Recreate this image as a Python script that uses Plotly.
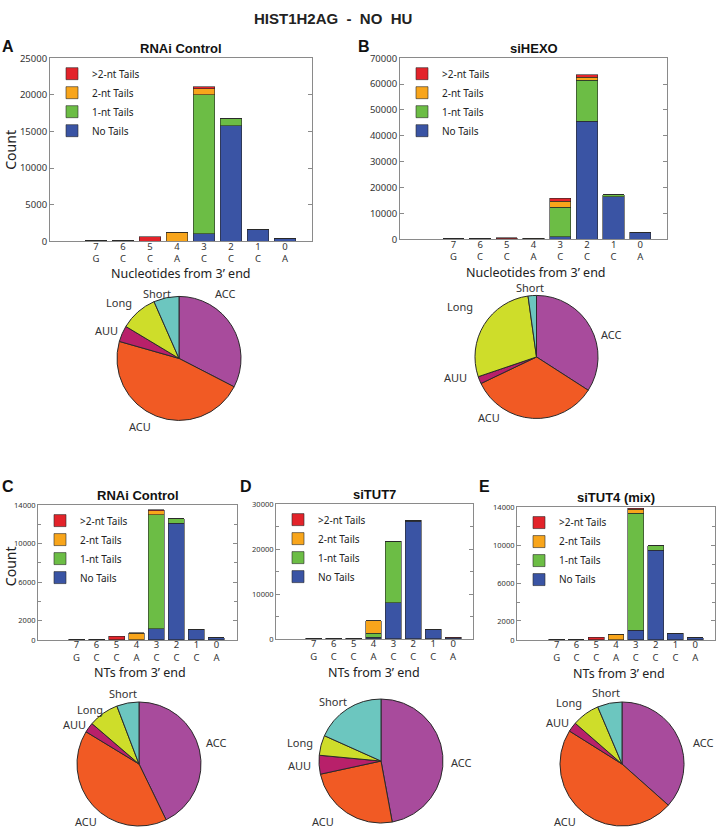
import plotly.graph_objects as go

# ---------------- data ----------------
nt_pos = ["7", "6", "5", "4", "3", "2", "1", "0"]
nt_base = ["G", "C", "C", "A", "C", "C", "C", "A"]
series_names = ["No Tails", "1-nt Tails", "2-nt Tails", ">2-nt Tails"]

# Panel A: RNAi Control (top)
a_no = [0, 0, 0, 0, 1030, 15800, 1610, 360]
a_one = [150, 50, 0, 0, 19000, 900, 0, 0]
a_two = [0, 0, 0, 1230, 800, 0, 0, 0]
a_gt2 = [0, 0, 590, 0, 270, 0, 0, 0]

# Panel B: siHEXO
b_no = [200, 200, 150, 150, 1000, 45600, 16460, 2660]
b_one = [50, 50, 50, 50, 11400, 15950, 760, 0]
b_two = [0, 0, 100, 200, 2300, 1000, 0, 0]
b_gt2 = [50, 50, 300, 100, 1140, 1000, 0, 0]

# Panel C: RNAi Control (bottom)
c_no = [50, 40, 0, 0, 1160, 12125, 1090, 240]
c_one = [50, 40, 0, 0, 11850, 475, 0, 0]
c_two = [0, 0, 0, 700, 410, 0, 0, 0]
c_gt2 = [0, 0, 375, 50, 100, 0, 0, 0]

# Panel D: siTUT7
d_no = [80, 80, 60, 400, 8100, 26160, 2210, 300]
d_one = [50, 50, 50, 850, 13640, 220, 0, 0]
d_two = [0, 0, 0, 2800, 0, 0, 0, 0]
d_gt2 = [0, 0, 0, 0, 0, 0, 0, 70]

# Panel E: siTUT4 (mix)
e_no = [60, 20, 0, 0, 1010, 9470, 700, 210]
e_one = [40, 10, 0, 0, 12350, 450, 0, 0]
e_two = [0, 0, 0, 590, 420, 0, 0, 0]
e_gt2 = [0, 0, 280, 0, 100, 0, 30, 0]

# pies (percent)
pie_labels = ["ACC", "ACU", "AUU", "Long", "Short"]
pie_a = [32.6, 46.9, 4.2, 9.8, 6.6]
pie_b = [34.1, 33.8, 1.9, 28.0, 2.2]
pie_c = [42.8, 40.9, 2.6, 7.9, 5.8]
pie_d = [47.1, 24.5, 4.9, 5.2, 18.3]
pie_e = [36.6, 47.4, 2.5, 7.2, 6.4]

# ---------------- styling / layout ----------------
W, H = 716, 834
bar_colors = ["#3A54A4", "#6CBD45", "#F8A51B", "#E3232A"]
pie_colors = ["#A84B9C", "#F15A24", "#B8206A", "#CEDD2A", "#6CC6BF"]
TF = "Noto Sans, Open Sans, sans-serif"
BF = "Liberation Sans, Arial, sans-serif"


def fx(a, b):
    return [a / W, b / W]


def fy(top, bottom):
    return [1 - bottom / H, 1 - top / H]


fig = go.Figure()

x_idx = list(range(1, len(nt_pos) + 1))
tick_text = [f"{p}<br>{b}" for p, b in zip(nt_pos, nt_base)]

panels = [
    dict(series=[a_no, a_one, a_two, a_gt2], title="RNAi Control",
         xd=fx(50, 312), yd=fy(52, 238), xr=[-0.7, 9.0], yr=[0, 25000],
         tv=[0, 5000, 10000, 15000, 20000, 25000], minor=None, yfs=9.5,
         xt="Nucleotides from 3’ end", xtpos=(181, 271), yt="Count", ytpos=(11, 145)),
    dict(series=[b_no, b_one, b_two, b_gt2], title="siHEXO",
         xd=fx(400, 667), yd=fy(52, 236), xr=[-1.0, 9.0], yr=[0, 70000],
         tv=[0, 10000, 20000, 30000, 40000, 50000, 60000, 70000], minor=None, yfs=9.5,
         xt="Nucleotides from 3’ end", xtpos=(536, 270), yt="", ytpos=None),
    dict(series=[c_no, c_one, c_two, c_gt2], title="RNAi Control",
         xd=fx(38, 237), yd=fy(506, 643), xr=[-0.93, 9.03], yr=[0, 14000],
         tv=[0, 2000, 6000, 10000, 14000], minor=2000, yfs=7.5,
         xt="NTs from 3’ end", xtpos=(140, 676), yt="Count", ytpos=(10, 568)),
    dict(series=[d_no, d_one, d_two, d_gt2], title="siTUT7",
         xd=fx(276, 473), yd=fy(505, 642), xr=[-0.9, 9.0], yr=[0, 30000],
         tv=[0, 10000, 20000, 30000], minor=5000, yfs=7.5,
         xt="NTs from 3’ end", xtpos=(374, 676), yt="", ytpos=None),
    dict(series=[e_no, e_one, e_two, e_gt2], title="siTUT4 (mix)",
         xd=fx(517, 715), yd=fy(508, 643), xr=[-1.0, 9.0], yr=[0, 14000],
         tv=[0, 2000, 6000, 10000, 14000], minor=2000, yfs=7.5,
         xt="NTs from 3’ end", xtpos=(619, 677), yt="", ytpos=None),
]

annotations = []
layout_upd = {}
for i, p in enumerate(panels, start=1):
    sfx = "" if i == 1 else str(i)
    leg = "legend" + sfx
    for name, vals, col in zip(series_names, p["series"], bar_colors):
        fig.add_trace(go.Bar(
            x=x_idx, y=vals, name=name, width=0.8,
            marker=dict(color=col, line=dict(color="rgba(40,40,40,0.75)", width=0.8)),
            xaxis="x" + sfx, yaxis="y" + sfx, legend=leg,
        ))
    layout_upd["xaxis" + sfx] = dict(
        domain=p["xd"], range=p["xr"], anchor="y" + sfx,
        tickmode="array", tickvals=x_idx, ticktext=tick_text,
        showline=True, mirror=True, linecolor="#8a8a8a", linewidth=1,
        ticks="", showgrid=False, zeroline=False, ticklabelstandoff=-4,
        tickfont=dict(family=TF, size=9.5, color="#333"),
    )
    ya = dict(
        domain=p["yd"], range=p["yr"], anchor="x" + sfx,
        tickmode="array", tickvals=p["tv"], tickformat="d",
        showline=True, mirror="ticks", linecolor="#8a8a8a", linewidth=1,
        ticks="inside", ticklen=4, tickcolor="#8a8a8a",
        showgrid=False, zeroline=False,
        tickfont=dict(family=TF, size=p["yfs"], color="#333"),
    )
    if p["minor"]:
        ya["minor"] = dict(dtick=p["minor"], ticks="inside", ticklen=3, tickcolor="#8a8a8a")
    layout_upd["yaxis" + sfx] = ya
    layout_upd[leg] = dict(
        x=p["xd"][0] + 2 / W, y=p["yd"][1] - 1 / H, xanchor="left", yanchor="top",
        traceorder="reversed", bgcolor="rgba(255,255,255,0)",
        borderwidth=0,
        font=dict(family=TF, size=10, color="#222"),
        tracegroupgap=0, itemwidth=30,
    )
    annotations.append(dict(
        text="<b>" + p["title"] + "</b>", xref=f"x{sfx} domain", yref=f"y{sfx} domain",
        x=0.5, y=1.0, xanchor="center", yanchor="bottom", showarrow=False, yshift=0,
        font=dict(family=BF, size=13, color="#111"),
    ))
    annotations.append(dict(
        text=p["xt"], xref="paper", yref="paper",
        x=p["xtpos"][0] / W, y=1 - p["xtpos"][1] / H, xanchor="center", yanchor="middle",
        showarrow=False, font=dict(family=TF, size=12.5, color="#222"),
    ))
    if p["yt"]:
        annotations.append(dict(
            text=p["yt"], xref="paper", yref="paper", textangle=-90,
            x=p["ytpos"][0] / W, y=1 - p["ytpos"][1] / H, xanchor="center", yanchor="middle",
            showarrow=False, font=dict(family=TF, size=14, color="#222"),
        ))

# pies: domains and where each slice name sits (pixels)
pie_specs = [
    (pie_a, fx(116, 242), fy(294, 420),
     [(225, 291), (140, 426), (106, 329), (119, 300), (157, 291)]),
    (pie_b, fx(474, 599), fy(293, 418),
     [(611, 333), (489, 417), (455, 376), (460, 304), (530, 285)]),
    (pie_c, fx(76, 202), fy(706, 832),
     [(216, 747), (86, 827), (74, 729), (90, 714), (123, 697)]),
    (pie_d, fx(318, 444), fy(703, 829),
     [(462, 767), (323, 827), (299, 771), (300, 747), (333, 706)]),
    (pie_e, fx(559, 685), fy(706, 832),
     [(703, 747), (565, 827), (557, 727), (569, 707), (606, 696)]),
]
for vals, dx, dy, lab_xy in pie_specs:
    fig.add_trace(go.Pie(
        labels=pie_labels, values=vals, sort=False, direction="clockwise", rotation=0,
        domain=dict(x=dx, y=dy), textinfo="none",
        marker=dict(colors=pie_colors, line=dict(color="#2a2a2a", width=1)),
        showlegend=False, hoverinfo="label+percent",
    ))
    for lab, (lx, ly) in zip(pie_labels, lab_xy):
        annotations.append(dict(text=lab, xref="paper", yref="paper",
                                x=lx / W, y=1 - ly / H, xanchor="center", yanchor="middle",
                                showarrow=False, font=dict(family=TF, size=11, color="#333")))

# title and panel letters
annotations.append(dict(text="<b>HIST1H2AG  -  NO  HU</b>", xref="paper", yref="paper",
                        x=333 / W, y=1 - 12 / H, xanchor="center", yanchor="middle",
                        showarrow=False, font=dict(family=BF, size=15, color="#222")))
for letter, lx, ly in [("A", 8, 40), ("B", 364, 40), ("C", 8, 487), ("D", 246, 487), ("E", 484, 487)]:
    annotations.append(dict(text="<b>" + letter + "</b>", xref="paper", yref="paper",
                            x=lx / W, y=1 - ly / H, xanchor="center", yanchor="middle",
                            showarrow=False, font=dict(family=BF, size=16, color="#111")))

fig.update_layout(
    width=W, height=H, margin=dict(l=0, r=0, t=0, b=0),
    paper_bgcolor="white", plot_bgcolor="white",
    barmode="stack", bargap=0.2,
    annotations=annotations, **layout_upd,
)

fig.write_html("out.html", config={"displayModeBar": False},
               post_script="document.body.style.margin='0';")
